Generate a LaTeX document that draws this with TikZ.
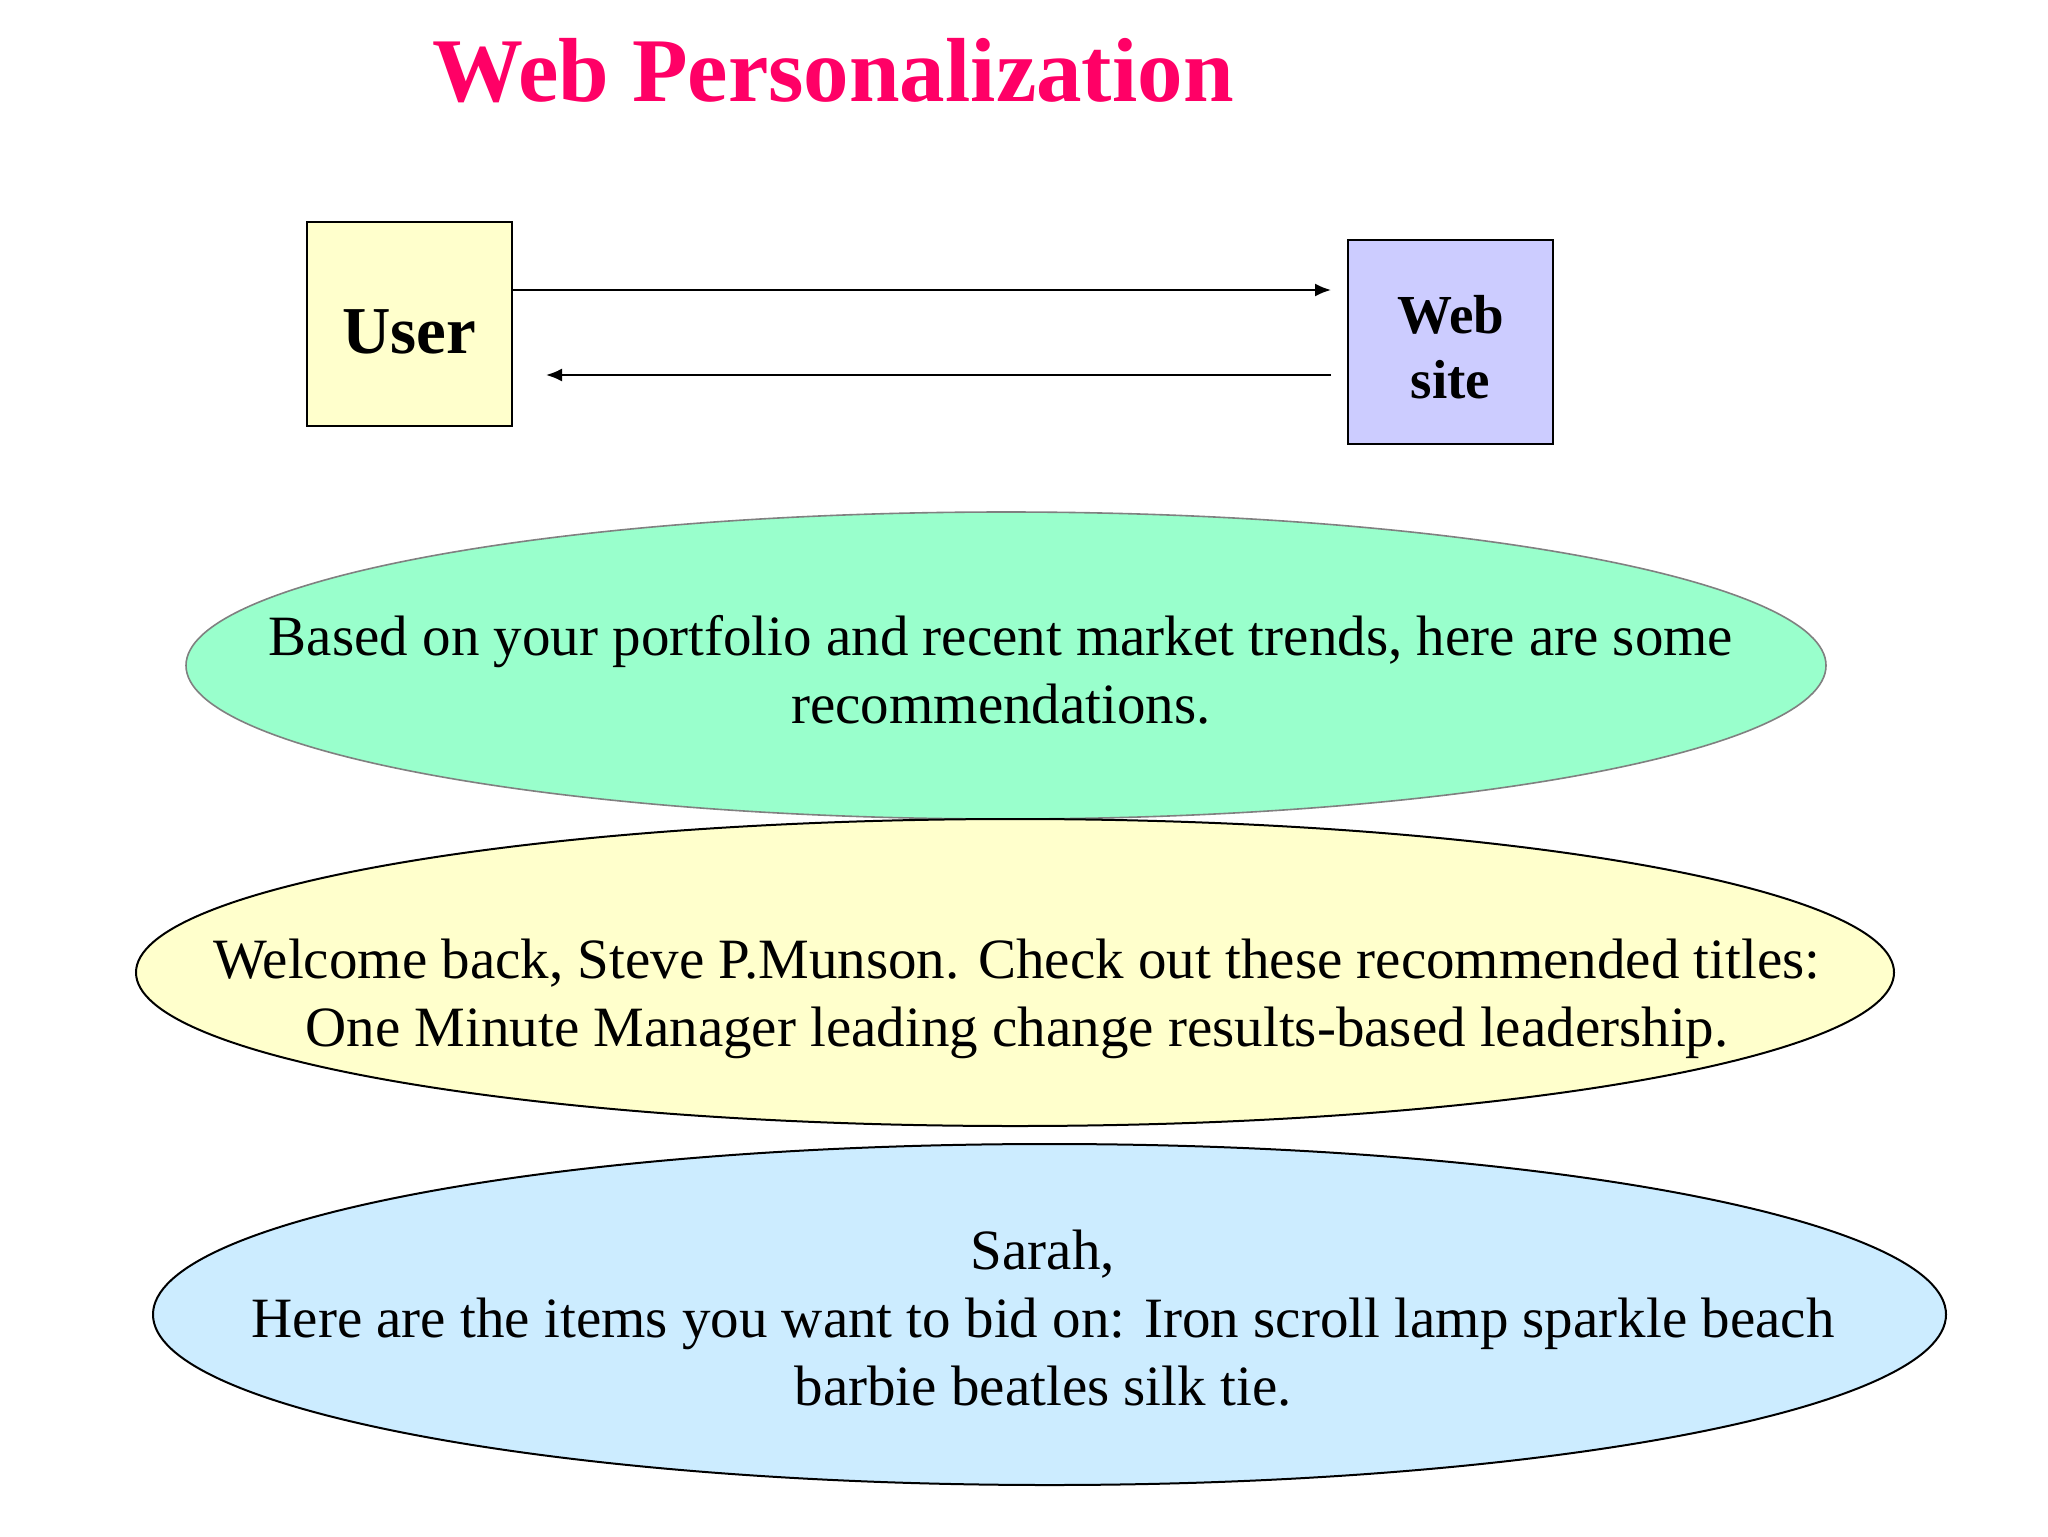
\documentclass[tikz,border=0pt]{standalone}
\usepackage{fontspec}
\setmainfont{Liberation Serif}
\usetikzlibrary{shapes.geometric,arrows.meta}
\definecolor{titlepink}{HTML}{FF0066}
\definecolor{userfill}{HTML}{FFFFCC}
\definecolor{sitefill}{HTML}{CCCCFF}
\definecolor{greenfill}{HTML}{99FFCC}
\definecolor{yellowfill}{HTML}{FFFFCC}
\definecolor{bluefill}{HTML}{CCECFF}
\tikzset{
  box/.style={draw=black, line width=1pt, minimum width=102.5pt, minimum height=102pt, inner sep=0pt},
  oval/.style={ellipse, draw=black, line width=1pt, inner sep=0pt},
  ovaltext/.style={anchor=center, inner sep=0pt, align=center, font=\fontsize{28.5pt}{34pt}\selectfont},
  conn/.style={line width=1pt, -{Latex[length=8pt,width=6.5pt]}}
}
\begin{document}
\begin{tikzpicture}[x=0.5pt,y=-0.5pt]
\useasboundingbox (0,0) rectangle (2048,1536);
\fill[white] (0,0) rectangle (2048,1536);
% title
\node[anchor=base, text=titlepink, font=\fontsize{45.5pt}{50pt}\selectfont\bfseries, inner sep=0pt] (title) at (833,102) {Web Personalization};
% boxes
\node[box, fill=userfill] (user) at (409.5,324) {};
\node[box, fill=sitefill] (site) at (1450.5,341.5) {};
\node[anchor=base, inner sep=0pt, font=\fontsize{33.5pt}{40pt}\selectfont\bfseries] (usertext) at (409.5,353) {User};
\node[anchor=base, inner sep=0pt, align=center, font=\fontsize{27.5pt}{32.5pt}\selectfont\bfseries] (sitetext) at (1450.5,398) {Web\\site};
% connectors
\coordinate (a1e) at (1331,290);
\coordinate (a2s) at (1331,375);
\coordinate (a2e) at (546,375);
\draw[conn] (user.east |- a1e) -- (a1e);
\draw[conn] (a2s) -- (a2e);
% ellipses
\node[oval, draw=gray, line width=0.8pt, fill=greenfill, minimum width=820pt, minimum height=153.5pt] (green) at (1006,665.5) {};
\node[oval, fill=yellowfill, minimum width=879pt, minimum height=153.5pt] (yellow) at (1015,972.5) {};
\node[oval, fill=bluefill, minimum width=896.5pt, minimum height=170.5pt] (blue) at (1049.5,1314.5) {};
\node[ovaltext] (greentext) at (1001,669.5)
  {Based on your portfolio and recent market trends, here are some\\recommendations.};
\node[ovaltext] (yellowtext) at (1017,998.5)
  {Welcome back, Steve P.Munson. Check out these recommended titles:\\One Minute Manager leading change results-based leadership.};
\node[ovaltext] (bluetext) at (1043,1318.5)
  {Sarah,\\Here are the items you want to bid on: Iron scroll lamp sparkle beach\\barbie beatles silk tie.};
\end{tikzpicture}
\end{document}
